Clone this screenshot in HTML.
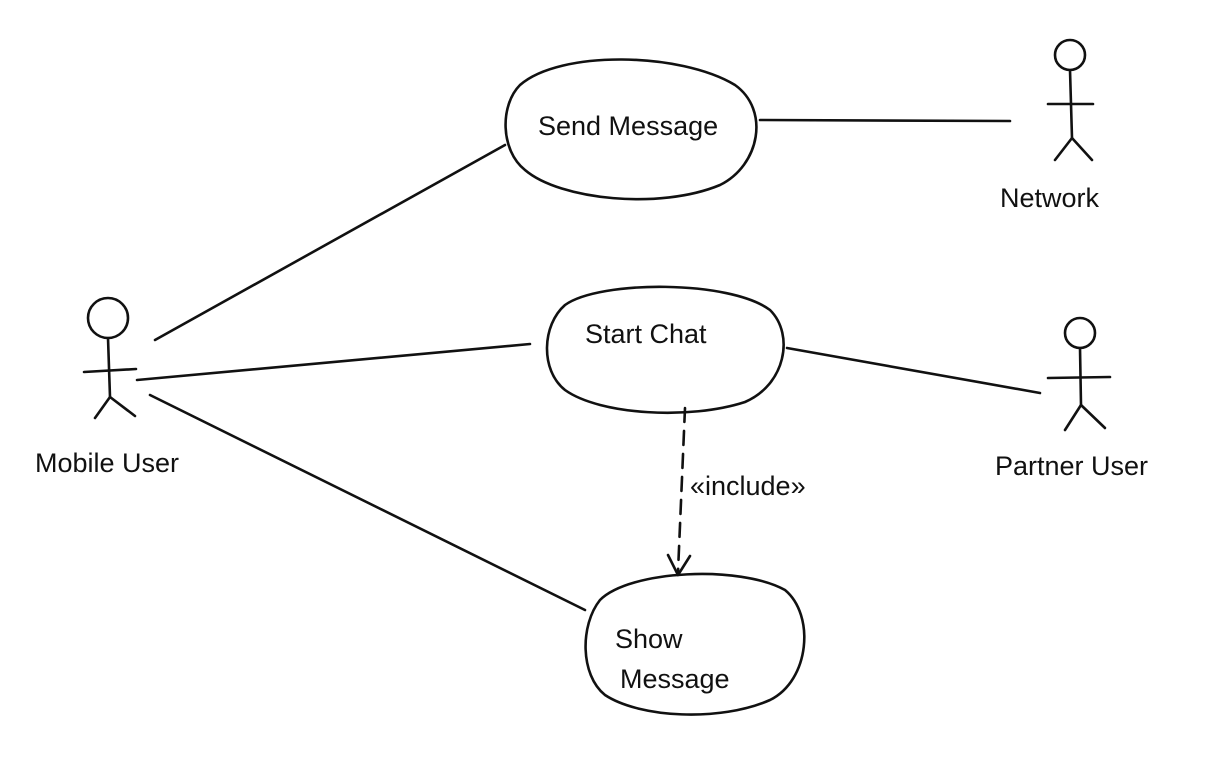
<!DOCTYPE html>
<html><head><meta charset="utf-8"><style>
html,body{margin:0;padding:0;background:#fff;}
svg{display:block;}
text{font-family:"Liberation Sans",sans-serif;font-size:27px;fill:#111;}
</style></head><body>
<svg width="1210" height="779" viewBox="0 0 1210 779" xmlns="http://www.w3.org/2000/svg">
<g fill="none" stroke="#111" stroke-width="2.6" stroke-linecap="round" stroke-linejoin="round">
<!-- Send Message -->
<path d="M520,85 C560,50 680,52 735,85 C770,110 760,165 720,185 C660,210 560,200 525,170 C500,150 500,105 520,85 Z"/>
<!-- Start Chat -->
<path d="M565,305 C600,280 730,280 770,310 C795,335 785,385 745,402 C690,420 600,415 565,390 C540,370 542,325 565,305 Z"/>
<!-- Show Message -->
<path d="M600,600 C630,570 740,565 785,590 C815,615 810,680 770,700 C720,722 640,718 605,695 C580,675 580,625 600,600 Z"/>
<!-- connectors -->
<line x1="760" y1="120" x2="1010" y2="121"/>
<line x1="155" y1="340" x2="505" y2="145"/>
<line x1="137" y1="380" x2="530" y2="344"/>
<line x1="150" y1="395" x2="585" y2="610"/>
<line x1="787" y1="348" x2="1040" y2="393"/>
<line x1="685" y1="408" x2="678" y2="572" stroke-dasharray="14,9"/>
<path d="M668,555 L678,575 L690,556"/>
<!-- Network actor -->
<circle cx="1070" cy="55" r="15"/>
<line x1="1070" y1="70" x2="1072" y2="138"/>
<line x1="1048" y1="104" x2="1093" y2="104"/>
<path d="M1055,160 L1072,138 L1092,160"/>
<!-- Mobile User actor -->
<circle cx="108" cy="318" r="20"/>
<line x1="108" y1="338" x2="110" y2="397"/>
<line x1="84" y1="372" x2="136" y2="369"/>
<path d="M95,418 L110,397 L135,416"/>
<!-- Partner User actor -->
<circle cx="1080" cy="333" r="15"/>
<line x1="1080" y1="348" x2="1081" y2="405"/>
<line x1="1048" y1="378" x2="1110" y2="377"/>
<path d="M1065,430 L1081,405 L1105,428"/>
</g>
<text x="538" y="135">Send Message</text>
<text x="1000" y="207">Network</text>
<text x="585" y="343">Start Chat</text>
<text x="35" y="472">Mobile User</text>
<text x="995" y="475">Partner User</text>
<text x="690" y="495">«include»</text>
<text x="615" y="648">Show</text>
<text x="620" y="688">Message</text>
</svg>
</body></html>
